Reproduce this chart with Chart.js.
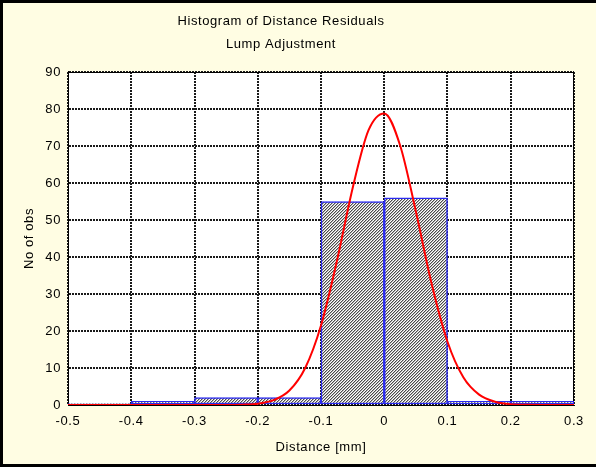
<!DOCTYPE html>
<html>
<head>
<meta charset="utf-8">
<script src="https://cdn.jsdelivr.net/npm/chart.js@4.4.1/dist/chart.umd.min.js"></script>
<style>
  html, body { margin: 0; padding: 0; background: #FFFDE3; }
  canvas { display: block; }
</style>
</head>
<body>
<canvas id="c" width="596" height="467"></canvas>
<script>
// ---- data ----
const titleLines = ['Histogram of Distance Residuals', 'Lump Adjustment'];
const xAxisTitle = 'Distance [mm]';
const yAxisTitle = 'No of obs';
const binCenters = [-0.45, -0.35, -0.25, -0.15, -0.05, 0.05, 0.15, 0.25];
const binCounts  = [0, 1, 2, 2, 55, 56, 1, 1];
const curveX = [-0.5, -0.25, -0.225, -0.2, -0.175, -0.15, -0.125, -0.1, -0.075, -0.05, -0.025, 0, 0.025, 0.05, 0.075, 0.1, 0.125, 0.15, 0.175, 0.2, 0.225, 0.25, 0.3];
const curveY = [0, 0.03, 0.1, 0.35, 1.3, 3.9, 10, 21.5, 38.8, 58.6, 74.2, 78.8, 70.2, 52.3, 32.7, 17.1, 7.5, 2.8, 0.9, 0.2, 0.05, 0.01, 0];
const xTickLabels = ['-0.5', '-0.4', '-0.3', '-0.2', '-0.1', '0', '0.1', '0.2', '0.3'];
const yTickLabels = ['0', '10', '20', '30', '40', '50', '60', '70', '80', '90'];

const FONT = "'Liberation Sans', Arial, sans-serif";
const canvas = document.getElementById('c');
const ctx0 = canvas.getContext('2d');

function makeHatch() {
  const p = document.createElement('canvas');
  p.width = 3; p.height = 3;
  const g = p.getContext('2d');
  const shades = ['#4a4a4a', '#b4b4b4', '#ffffff'];
  for (let y = 0; y < 3; y++) {
    for (let x = 0; x < 3; x++) {
      g.fillStyle = shades[(x + y) % 3];
      g.fillRect(x, y, 1, 1);
    }
  }
  return ctx0.createPattern(p, 'repeat');
}
const hatch = makeHatch();

const spacingPlugin = {
  id: 'spacing',
  beforeUpdate(chart) { chart.ctx.letterSpacing = '0.6px'; },
  beforeDraw(chart) { chart.ctx.letterSpacing = '0.6px'; }
};

const framePlugin = {
  id: 'frame',
  afterLayout(chart) {
    if (chart.titleBlock) { chart.titleBlock.left = 0; chart.titleBlock.right = 562; }
  },
  beforeDraw(chart) {
    const c = chart.ctx, a = chart.chartArea;
    c.save();
    c.fillStyle = '#FFFDE3';
    c.fillRect(0, 0, chart.width, chart.height);
    c.fillStyle = '#ffffff';
    c.fillRect(a.left, a.top, a.right - a.left, a.bottom - a.top);
    c.fillStyle = '#000000';
    c.fillRect(0, 0, chart.width, 3);
    c.fillRect(0, 0, 3, chart.height);
    c.fillRect(0, chart.height - 3, chart.width, 3);
    c.restore();
  },
  beforeDatasetsDraw(chart) {
    const c = chart.ctx, a = chart.chartArea;
    c.save();
    c.strokeStyle = '#000000';
    c.lineWidth = 1;
    c.strokeRect(Math.round(a.left) + 0.5, Math.round(a.top) + 0.5, Math.round(a.right - a.left) - 1, Math.round(a.bottom - a.top));
    c.restore();
  }
};

new Chart(canvas, {
  type: 'bar',
  data: {
    datasets: [
      {
        type: 'line',
        data: curveX.map((x, i) => ({ x: x, y: curveY[i] })),
        borderColor: '#FF0000',
        borderWidth: 2,
        pointRadius: 0,
        fill: false,
        cubicInterpolationMode: 'monotone',
        order: 0
      },
      {
        type: 'bar',
        data: binCenters.map((x, i) => ({ x: x, y: binCounts[i] })),
        backgroundColor: hatch,
        borderColor: '#2A2AF0',
        borderWidth: 1.5,
        borderSkipped: false,
        minBarLength: 1.5,
        barPercentage: 1,
        categoryPercentage: 1,
        order: 1
      }
    ]
  },
  options: {
    responsive: false,
    animation: false,
    devicePixelRatio: 1,
    layout: { padding: { left: 3, right: 22, top: 3, bottom: 3 } },
    plugins: {
      legend: { display: false },
      tooltip: { enabled: false },
      title: {
        display: true,
        text: titleLines,
        color: '#000000',
        font: { family: FONT, size: 13, weight: 'normal', lineHeight: 1.715 },
        padding: { top: 7.6, bottom: 16.8 }
      }
    },
    scales: {
      x: {
        type: 'linear',
        min: -0.5,
        max: 0.3,
        offset: false,
        afterFit(s) { s.height = 59; },
        ticks: {
          stepSize: 0.1,
          color: '#000000',
          font: { family: FONT, size: 13 },
          padding: 9,
          maxRotation: 0,
          callback: (v, i) => xTickLabels[i]
        },
        grid: { color: '#1a1a1a', lineWidth: 2, drawTicks: false, offset: false },
        border: { display: true, color: '#000000', width: 1, dash: [2, 1] },
        title: {
          display: true,
          text: xAxisTitle,
          color: '#000000',
          font: { family: FONT, size: 13 },
          padding: { top: 0, bottom: 9 }
        }
      },
      y: {
        min: 0,
        max: 90,
        afterFit(s) { s.width = 65; },
        ticks: {
          stepSize: 10,
          color: '#000000',
          font: { family: FONT, size: 13 },
          padding: 7,
          callback: (v, i) => yTickLabels[i]
        },
        grid: { color: '#1a1a1a', lineWidth: 2, drawTicks: false },
        border: { display: true, color: '#000000', width: 1, dash: [2, 1] },
        title: {
          display: true,
          text: yAxisTitle,
          color: '#000000',
          font: { family: FONT, size: 13 },
          padding: { top: 19, bottom: 0 }
        }
      }
    }
  },
  plugins: [spacingPlugin, framePlugin]
});
</script>
</body>
</html>
